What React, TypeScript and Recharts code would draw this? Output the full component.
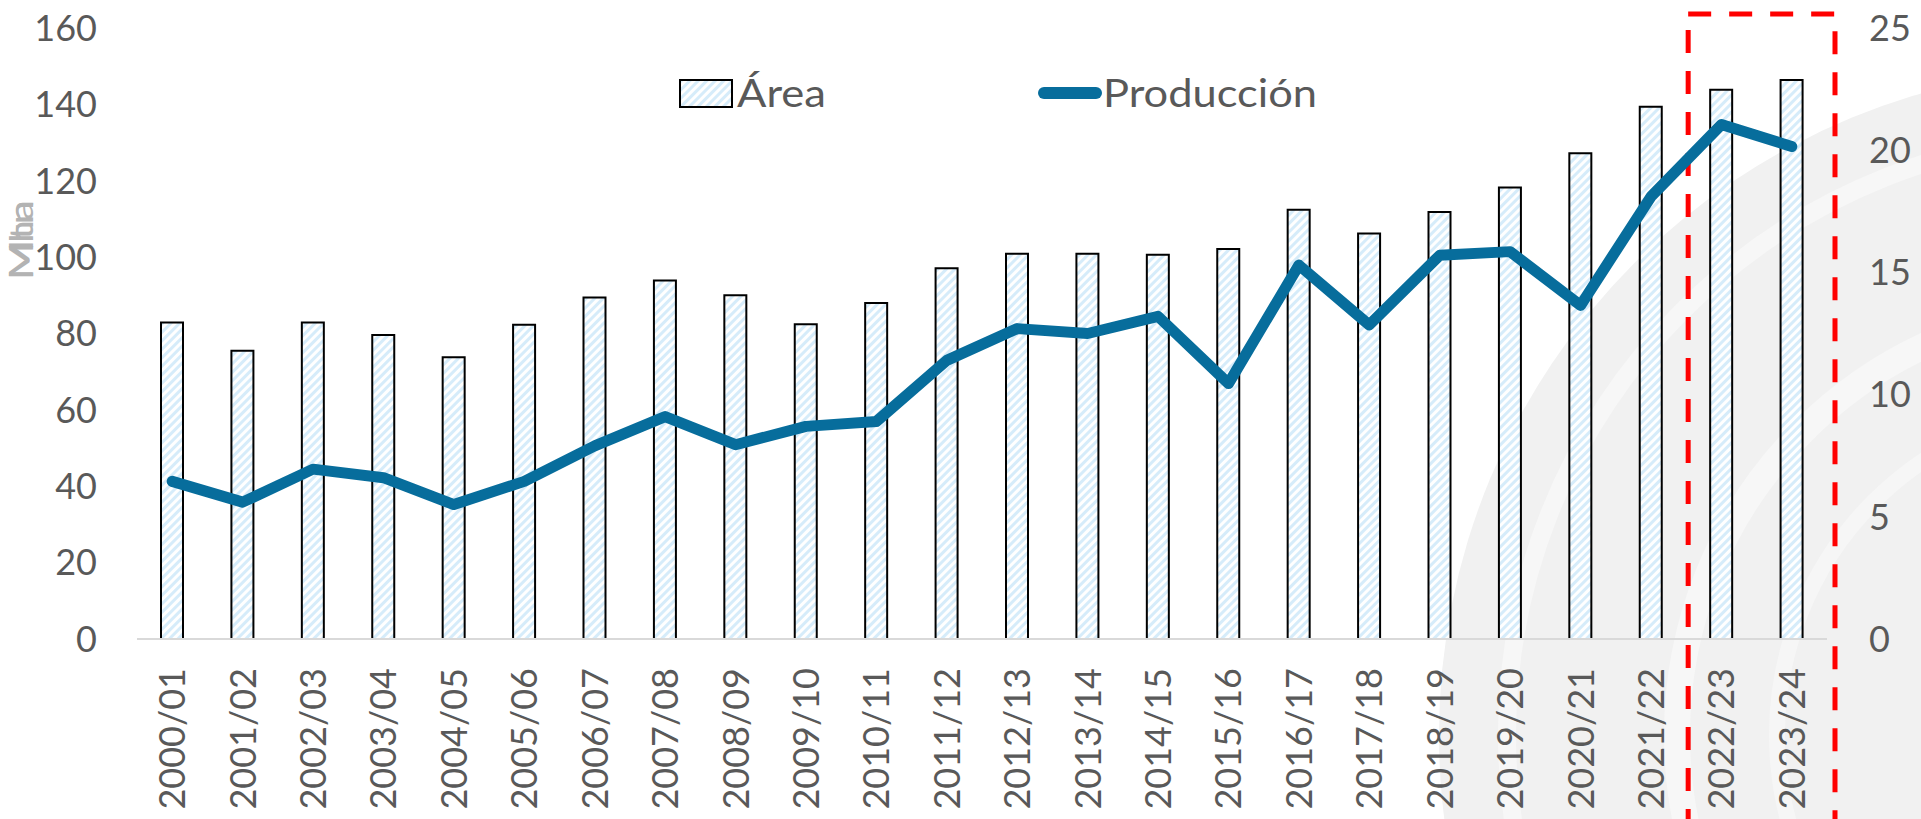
import React from "react";
import {
  ComposedChart,
  Bar,
  Line,
  XAxis,
  YAxis,
  Legend,
  ReferenceArea,
} from "recharts";

const campaigns = [
  "2000/01", "2001/02", "2002/03", "2003/04", "2004/05", "2005/06",
  "2006/07", "2007/08", "2008/09", "2009/10", "2010/11", "2011/12",
  "2012/13", "2013/14", "2014/15", "2015/16", "2016/17", "2017/18",
  "2018/19", "2019/20", "2020/21", "2021/22", "2022/23", "2023/24",
];

// area (left axis)
const area = [
  82.9, 75.5, 82.9, 79.6, 73.8, 82.3, 89.4, 93.9, 90.0, 82.4, 88.0, 97.1,
  100.9, 100.9, 100.6, 102.1, 112.4, 106.2, 111.8, 118.2, 127.2, 139.4, 143.8, 146.4,
];

// producción (right axis)
const produccion = [
  6.45, 5.6, 6.95, 6.6, 5.5, 6.45, 7.9, 9.1, 7.95, 8.7, 8.9, 11.4,
  12.7, 12.5, 13.2, 10.45, 15.3, 12.85, 15.7, 15.85, 13.65, 18.1, 21.05, 20.15,
];

const leftTicks = [0, 20, 40, 60, 80, 100, 120, 140, 160];
const rightTicks = [0, 5, 10, 15, 20, 25];

const data = campaigns.map((c, i) => ({
  campaign: c,
  area: area[i],
  produccion: produccion[i],
}));

const FONT = "Lato, 'Open Sans', sans-serif";
const GREY = "#595959";
const BLUE = "#076d9c";

const Hatch = ({ id }: { id: string }) => (
  <pattern
    id={id}
    patternUnits="userSpaceOnUse"
    width={6}
    height={6}
    patternTransform="rotate(45)"
  >
    <rect width={6} height={6} fill="#ffffff" />
    <rect width={3} height={6} fill="#d6ecfa" />
  </pattern>
);

const XTick = (props: any) => {
  const { x, y, payload } = props;
  return (
    <g transform={`translate(${x},${y})`}>
      <text
        transform="rotate(-90)"
        textAnchor="end"
        dy="0.36em"
        fill={GREY}
        fontSize={36}
        fontFamily={FONT}
      >
        {payload.value}
      </text>
    </g>
  );
};

const AxisTitle = (props: any) => {
  const vb = props.viewBox || { x: 0 };
  const x = vb.x + 33;
  const y = 240;
  return (
    <g fill="#b3b3b3" fontSize={33} fontFamily={FONT}>
      <text
        x={x}
        y={y}
        transform={`rotate(-90, ${x}, ${y})`}
        textAnchor="middle"
        textLength={80}
        lengthAdjust="spacingAndGlyphs"
      >
        Mtn
      </text>
      <text
        x={x}
        y={y}
        transform={`rotate(-90, ${x}, ${y})`}
        textAnchor="middle"
        textLength={80}
        lengthAdjust="spacingAndGlyphs"
      >
        Mha
      </text>
    </g>
  );
};

const LegendBox = () => (
  <svg width={700} height={44} style={{ overflow: "visible" }}>
    <defs>
      <Hatch id="hatchLegend" />
    </defs>
    <rect x={10} y={7} width={52} height={27} fill="url(#hatchLegend)" stroke="#000" strokeWidth={2} />
    <text
      x={67}
      y={34}
      fill={GREY}
      fontSize={39}
      fontFamily={FONT}
      textLength={89}
      lengthAdjust="spacingAndGlyphs"
    >
      Área
    </text>
    <line x1={374} y1={20} x2={426} y2={20} stroke={BLUE} strokeWidth={12} strokeLinecap="round" />
    <text
      x={433}
      y={34}
      fill={GREY}
      fontSize={39}
      fontFamily={FONT}
      textLength={214}
      lengthAdjust="spacingAndGlyphs"
    >
      Producción
    </text>
  </svg>
);

const HighlightBox = (props: any) => {
  const { x, y, width, height } = props;
  const L = x + 2;
  const R = x + width + 8;
  const T = y - 14;
  const B = y + height + 190;
  return (
    <g stroke="#ff0000" strokeWidth={5} fill="none" strokeDasharray="23 18">
      <path d={`M${L},${T} H${R} V${B}`} />
      <path d={`M${L},${T + 16} V${B}`} />
    </g>
  );
};

const Watermark = () => (
  <svg
    width={1921}
    height={819}
    style={{ position: "absolute", left: 0, top: 0 }}
  >
    <circle cx={2107} cy={735} r={668} fill="#f1f1f1" />
    <circle cx={2107} cy={735} r={600} fill="none" stroke="#f7f7f7" strokeWidth={18} />
    <circle cx={2107} cy={735} r={430} fill="none" stroke="#f7f7f7" strokeWidth={26} />
    <circle cx={2107} cy={735} r={330} fill="none" stroke="#f6f6f6" strokeWidth={16} />
  </svg>
);

export default function App() {
  return (
    <div style={{ position: "absolute", left: 0, top: 0, width: 1921, height: 819, background: "#fff" }}>
      <Watermark />
      <div style={{ position: "absolute", left: 0, top: 0 }}>
        <ComposedChart
          width={1921}
          height={819}
          data={data}
          margin={{ top: 28, right: 0, bottom: 0, left: 0 }}
        >
          <defs>
            <Hatch id="hatchBar" />
          </defs>
          <XAxis
            dataKey="campaign"
            interval={0}
            height={180}
            tickLine={false}
            tickSize={0}
            tickMargin={29}
            axisLine={{ stroke: "#d9d9d9", strokeWidth: 2 }}
            tick={<XTick />}
          />
          <YAxis
            yAxisId="left"
            width={137}
            domain={[0, 160]}
            ticks={leftTicks}
            axisLine={false}
            tickLine={false}
            tickSize={0}
            tickMargin={40}
            tick={{ fill: GREY, fontSize: 36, fontFamily: FONT }}
            label={<AxisTitle />}
          />
          <YAxis
            yAxisId="right"
            orientation="right"
            width={94}
            domain={[0, 25]}
            ticks={rightTicks}
            axisLine={false}
            tickLine={false}
            tickSize={0}
            tickMargin={42}
            tick={{ fill: GREY, fontSize: 36, fontFamily: FONT }}
          />
          <Legend
            layout="horizontal"
            verticalAlign="middle"
            align="center"
            wrapperStyle={{ top: 73, left: 670, width: 700, height: 44 }}
            content={() => <LegendBox />}
          />
          <Bar
            yAxisId="left"
            dataKey="area"
            name="Área"
            barSize={22}
            fill="url(#hatchBar)"
            stroke="#000000"
            strokeWidth={2}
            isAnimationActive={false}
          />
          <Line
            yAxisId="right"
            type="linear"
            dataKey="produccion"
            name="Producción"
            stroke={BLUE}
            strokeWidth={11}
            strokeLinecap="round"
            strokeLinejoin="round"
            dot={false}
            activeDot={false}
            isAnimationActive={false}
          />
          <ReferenceArea
            yAxisId="left"
            x1="2022/23"
            x2="2023/24"
            ifOverflow="visible"
            shape={<HighlightBox />}
          />
        </ComposedChart>
      </div>
    </div>
  );
}
